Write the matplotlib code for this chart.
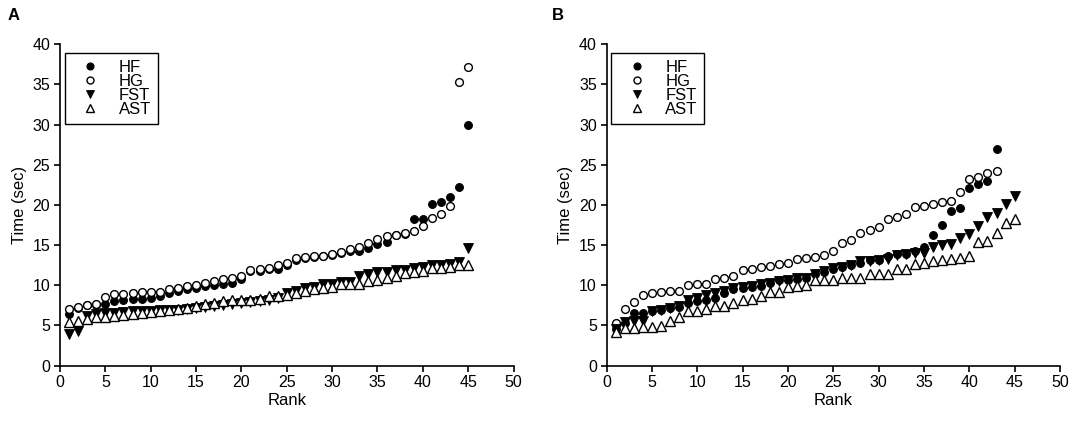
import matplotlib
matplotlib.use("Agg")
import matplotlib.pyplot as plt

plt.rcParams['font.family'] = ['Liberation Sans', 'DejaVu Sans']

# ---------------- data (ranked times, sec) ----------------
A_HF = [6.45, 7.2, 7.5, 7.55, 7.7, 8.0, 8.2, 8.3, 8.3, 8.4, 8.6, 9.0, 9.3, 9.5, 9.7,
        9.96, 10.0, 10.1, 10.26, 10.75, 11.8, 11.8, 12.0, 12.0, 12.5, 13.2, 13.4, 13.5,
        13.6, 13.8, 14.0, 14.2, 14.3, 14.6, 15.1, 15.4, 16.2, 16.4, 18.2, 18.2, 20.1,
        20.4, 21.0, 22.2, 29.9]
A_HG = [7.0, 7.28, 7.57, 7.6, 8.48, 8.9, 8.93, 9.0, 9.1, 9.14, 9.2, 9.47, 9.63, 9.84,
        10.0, 10.3, 10.54, 10.75, 10.87, 11.17, 11.9, 12.0, 12.1, 12.53, 12.74, 13.36,
        13.5, 13.6, 13.65, 13.85, 14.1, 14.5, 14.7, 15.2, 15.7, 16.1, 16.3, 16.5, 16.7,
        17.4, 18.4, 18.9, 19.9, 35.3, 37.2]
A_FST = [3.9, 4.25, 6.2, 6.45, 6.54, 6.55, 6.66, 6.74, 6.8, 6.82, 6.85, 6.9, 6.95, 7.03,
         7.15, 7.3, 7.36, 7.5, 7.6, 7.77, 7.9, 8.0, 8.1, 8.4, 9.0, 9.3, 9.6, 9.8, 10.1,
         10.2, 10.4, 10.4, 11.2, 11.4, 11.7, 11.7, 11.9, 11.9, 12.1, 12.3, 12.5, 12.5,
         12.7, 12.9, 14.6]
A_AST = [5.38, 5.58, 5.83, 6.1, 6.1, 6.15, 6.3, 6.4, 6.54, 6.66, 6.82, 6.95, 7.07, 7.15,
         7.36, 7.7, 7.77, 8.0, 8.1, 8.1, 8.2, 8.25, 8.6, 8.6, 8.8, 9.0, 9.3, 9.5, 9.6,
         9.8, 10.1, 10.2, 10.2, 10.5, 10.6, 10.9, 11.1, 11.5, 11.6, 11.8, 12.1, 12.2,
         12.3, 12.5, 12.5]

B_HF = [4.6, 5.3, 6.6, 6.6, 6.79, 6.9, 7.1, 7.3, 7.82, 8.0, 8.15, 8.4, 9.0, 9.5, 9.7,
        9.8, 9.9, 10.3, 10.6, 10.7, 10.8, 10.85, 11.35, 11.7, 11.98, 12.3, 12.5, 12.8,
        13.1, 13.2, 13.6, 13.85, 13.9, 14.2, 14.7, 16.3, 17.5, 19.2, 19.6, 22.1, 22.6,
        22.97, 27.0]
B_HG = [5.33, 6.99, 7.9, 8.78, 9.07, 9.2, 9.28, 9.3, 10.0, 10.1, 10.15, 10.75, 10.9,
        11.2, 11.85, 11.97, 12.3, 12.35, 12.68, 12.8, 13.3, 13.4, 13.55, 13.8, 14.2,
        15.3, 15.6, 16.45, 16.9, 17.25, 18.3, 18.5, 18.9, 19.7, 19.9, 20.15, 20.4, 20.5,
        21.65, 23.2, 23.5, 24.0, 24.2]
B_FST = [4.5, 5.46, 5.54, 5.6, 6.8, 6.95, 7.15, 7.4, 8.1, 8.45, 8.74, 9.07, 9.28, 9.6,
         9.77, 9.9, 10.1, 10.3, 10.5, 10.7, 10.85, 10.9, 11.4, 11.8, 12.1, 12.3, 12.5,
         13.0, 13.05, 13.1, 13.3, 13.7, 13.9, 13.95, 14.05, 14.7, 15.0, 15.1, 15.9, 16.4,
         17.4, 18.5, 19.0, 20.15, 21.1]
B_AST = [4.2, 4.63, 4.63, 4.8, 4.83, 4.92, 5.54, 6.08, 6.79, 6.8, 7.0, 7.35, 7.4, 7.8,
         8.2, 8.3, 8.7, 9.1, 9.15, 9.8, 9.9, 10.0, 10.6, 10.65, 10.7, 10.85, 10.85, 10.9,
         11.35, 11.4, 11.45, 11.98, 12.0, 12.7, 12.75, 13.0, 13.1, 13.3, 13.4, 13.6, 15.4,
         15.5, 16.5, 17.7, 18.2]

series_names = ["HF", "HG", "FST", "AST"]
x_ticks = list(range(0, 55, 5))
y_ticks = list(range(0, 45, 5))
panels = [("A", [A_HF, A_HG, A_FST, A_AST]), ("B", [B_HF, B_HG, B_FST, B_AST])]

styles = {
    "HF": dict(marker="o", markersize=5.6, mfc="black", mec="black", mew=0.8),
    "HG": dict(marker="o", markersize=5.6, mfc="white", mec="black", mew=1.0),
    "FST": dict(marker="v", markersize=7.0, mfc="black", mec="black", mew=0.6),
    "AST": dict(marker="^", markersize=7.0, mfc="white", mec="black", mew=1.0),
}

fig = plt.figure(figsize=(10.84, 4.29), dpi=100)
lefts = [60 / 1084, 606.5 / 1084]
W = 453.5 / 1084
BOT = (429 - 365.5) / 429
H = (365.5 - 44.3) / 429

for (letter, data), left in zip(panels, lefts):
    ax = fig.add_axes([left, BOT, W, H])
    for name, vals in zip(series_names, data):
        ranks = list(range(1, len(vals) + 1))
        ax.plot(ranks, vals, linestyle="none", label=name, clip_on=False, **styles[name])
    ax.set_xlim(0, 50)
    ax.set_ylim(0, 40)
    ax.set_xticks(x_ticks)
    ax.set_yticks(y_ticks)
    for s in ("top", "right"):
        ax.spines[s].set_visible(False)
    for s in ("left", "bottom"):
        ax.spines[s].set_linewidth(1.2)
    ax.tick_params(direction="out", length=4, width=1.2, labelsize=11.5, pad=3)
    ax.set_xlabel("Rank", fontsize=12, labelpad=2)
    ax.set_ylabel("Time (sec)", fontsize=12, labelpad=4)
    leg = ax.legend(loc="upper left", bbox_to_anchor=(0.011, 0.973), fontsize=12,
                    frameon=True, fancybox=False, edgecolor="black", framealpha=1,
                    labelspacing=-0.06, handletextpad=0.6, borderpad=0.42,
                    handlelength=2.2, borderaxespad=0, markerscale=0.9)
    leg.get_frame().set_linewidth(1.0)
    ax.text(-0.115 if letter == "A" else -0.12, 1.09, letter, transform=ax.transAxes,
            fontsize=12, fontweight="bold", va="center", ha="left")

fig.savefig("out.png", dpi=100)
